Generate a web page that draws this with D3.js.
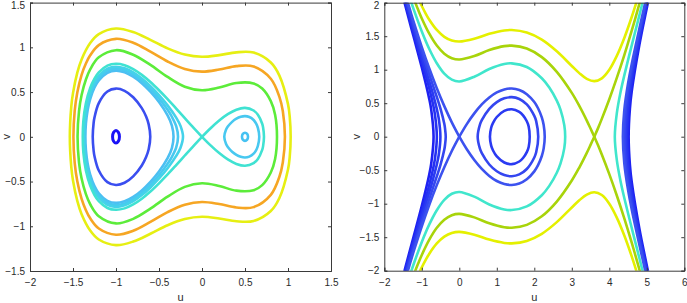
<!DOCTYPE html>
<html><head><meta charset="utf-8">
<script src="https://cdn.jsdelivr.net/npm/d3@7"></script>
<style>
body{margin:0;background:#fff}
svg{display:block}
text{font-family:"Liberation Sans",Arial,Helvetica,sans-serif}
</style></head>
<body><svg id="c" width="687" height="303"></svg>
<script>
// ---------- tick labels ----------
const leftXTicks = [-2, -1.5, -1, -0.5, 0, 0.5, 1, 1.5];
const leftYTicks = [-1.5, -1, -0.5, 0, 0.5, 1, 1.5];
const rightXTicks = [-2, -1, 0, 1, 2, 3, 4, 5, 6];
const rightYTicks = [-2, -1.5, -1, -0.5, 0, 0.5, 1, 1.5, 2];

// ---------- left panel: upper halves (u, v>=0) of symmetric orbits ----------
const lYellow = [[-1.537,0],[-1.52,0.337],[-1.5,0.488],[-1.45,0.717],[-1.4,0.865],[-1.3,1.048],[-1.2,1.148],[-1.0,1.211],[-0.8,1.171],[-0.6,1.084],[-0.4,0.988],[-0.2,0.919],[0,0.894],[0.2,0.913],[0.4,0.944],[0.6,0.941],[0.8,0.830],[0.9,0.684],[1.0,0.365],[1.02,0.225],[1.031,0]];
const lOrange = [[-1.495,0],[-1.48,0.293],[-1.45,0.496],[-1.4,0.693],[-1.35,0.820],[-1.3,0.911],[-1.2,1.025],[-1.0,1.095],[-0.8,1.051],[-0.6,0.952],[-0.4,0.842],[-0.2,0.759],[0,0.729],[0.2,0.752],[0.4,0.790],[0.6,0.786],[0.8,0.649],[0.9,0.447],[0.94,0.285],[0.964,0]];
const lGreen = [[-1.447,0],[-1.43,0.288],[-1.4,0.467],[-1.35,0.641],[-1.3,0.754],[-1.2,0.888],[-1.0,0.968],[-0.8,0.917],[-0.6,0.803],[-0.4,0.669],[-0.2,0.560],[0,0.520],[0.2,0.550],[0.4,0.602],[0.6,0.597],[0.7,0.540],[0.8,0.399],[0.85,0.247],[0.872,0]];
const lSepLeft = [[-1.3865,0],[-1.38,0.172],[-1.35,0.376],[-1.3,0.546],[-1.25,0.651],[-1.2,0.720],[-1.1,0.796],[-1.0,0.816],[-0.9,0.800],[-0.8,0.756],[-0.7,0.692],[-0.6,0.612],[-0.5,0.520],[-0.4,0.421],[-0.3,0.316],[-0.2,0.209],[-0.1,0.103],[0,0]];
const lSepRight = [[0,0],[0.1,0.096],[0.2,0.182],[0.3,0.253],[0.4,0.303],[0.5,0.323],[0.6,0.294],[0.65,0.247],[0.7,0.146],[0.71,0.107],[0.7206,0]];
const lCyan1 = [[-1.3736,0],[-1.36,0.227],[-1.35,0.295],[-1.3,0.494],[-1.25,0.608],[-1.2,0.681],[-1.1,0.761],[-1.0,0.783],[-0.9,0.765],[-0.8,0.720],[-0.7,0.651],[-0.6,0.566],[-0.5,0.466],[-0.4,0.351],[-0.3,0.214],[-0.25,0.122],[-0.221,0]];
const lCyan2 = [[-1.365,0],[-1.36,0.14],[-1.35,0.235],[-1.3,0.461],[-1.25,0.581],[-1.2,0.658],[-1.1,0.740],[-1.0,0.762],[-0.9,0.744],[-0.8,0.697],[-0.7,0.626],[-0.6,0.537],[-0.5,0.430],[-0.4,0.302],[-0.35,0.224],[-0.3,0.118],[-0.279,0]];
const lCyan3 = [[-1.356,0],[-1.35,0.146],[-1.33,0.297],[-1.3,0.422],[-1.25,0.551],[-1.2,0.631],[-1.1,0.716],[-1.0,0.739],[-0.9,0.721],[-0.8,0.672],[-0.7,0.599],[-0.6,0.504],[-0.5,0.388],[-0.4,0.239],[-0.35,0.126],[-0.331,0]];
const lBlue = [[-1.2705,0],[-1.26,0.157],[-1.25,0.217],[-1.2,0.377],[-1.1,0.507],[-1.0,0.539],[-0.9,0.514],[-0.8,0.442],[-0.7,0.320],[-0.65,0.226],[-0.62,0.139],[-0.6015,0]];
const lTinyBlue = [[-1.04,0],[-1.028,0.049],[-1.0,0.07],[-0.972,0.049],[-0.96,0]];
const lRightLoop = [[0.259,0],[0.28,0.081],[0.3,0.114],[0.35,0.167],[0.4,0.202],[0.45,0.223],[0.5,0.231],[0.55,0.221],[0.6,0.188],[0.63,0.148],[0.65,0.100],[0.666,0]];
const lTinyCyan = [[0.465,0],[0.475,0.032],[0.5,0.045],[0.525,0.032],[0.535,0]];

// ---------- right panel: upper halves ----------
const rYellow = [[-1.1,2.070],[-1.0,1.950],[-0.9,1.842],[-0.8,1.746],[-0.6,1.593],[-0.4,1.491],[-0.2,1.436],[0,1.420],[0.4,1.462],[0.8,1.536],[1.2,1.586],[1.4,1.592],[1.8,1.555],[2.2,1.449],[2.6,1.275],[3.0,1.056],[3.2,0.949],[3.4,0.864],[3.6,0.829],[3.8,0.871],[4.0,1.000],[4.2,1.207],[4.4,1.474],[4.6,1.790],[4.8,2.145]];
const rOliveLeft = [[-1.25,2.117],[-1.2,2.040],[-1.1,1.897],[-1.0,1.765],[-0.8,1.537],[-0.6,1.360],[-0.4,1.239],[-0.2,1.172],[0,1.152],[0.4,1.204],[0.8,1.293],[1.2,1.352],[1.4,1.359],[1.8,1.316],[2.2,1.188],[2.6,0.968],[3.0,0.654],[3.2,0.460],[3.4,0.241],[3.5,0.122],[3.6,0]];
const rOliveRight = [[3.6,0],[3.7,0.128],[3.8,0.266],[4.0,0.559],[4.2,0.877],[4.4,1.219],[4.6,1.586],[4.8,1.978],[4.9,2.184]];
const rTurqLoop = [[-1.35,2.126],[-1.3,2.040],[-1.2,1.874],[-1.0,1.571],[-0.8,1.309],[-0.6,1.097],[-0.4,0.942],[-0.2,0.852],[0,0.825],[0.4,0.895],[0.8,1.011],[1.2,1.086],[1.4,1.095],[1.8,1.041],[2.2,0.873],[2.4,0.734],[2.6,0.538],[2.7,0.399],[2.8,0.171],[2.8235,0]];
const rTurqRight = [[4.147,0],[4.2,0.347],[4.3,0.666],[4.4,0.915],[4.6,1.367],[4.8,1.807],[4.9,2.031]];
const rBlue0Left = [[-1.45,2.152],[-1.4,2.055],[-1.3,1.866],[-1.2,1.683],[-1.0,1.337],[-0.8,1.017],[-0.6,0.723],[-0.4,0.456],[-0.2,0.214],[0,0]];
const rBlue0Loop = [[0,0],[0.2,0.188],[0.4,0.348],[0.6,0.481],[0.8,0.585],[1.0,0.661],[1.2,0.706],[1.4,0.720],[1.6,0.698],[1.8,0.635],[2.0,0.517],[2.1,0.425],[2.2,0.288],[2.25,0.174],[2.278,0]];
const rBlue0Right = [[4.362,0],[4.4,0.397],[4.5,0.794],[4.6,1.090],[4.8,1.608],[5.0,2.101]];
const rBlue1Left = [[-1.45,2.112],[-1.4,2.013],[-1.3,1.820],[-1.2,1.632],[-1.0,1.271],[-0.8,0.929],[-0.6,0.593],[-0.5,0.416],[-0.4,0.192],[-0.38,0.120],[-0.362,0]];
const rBlue1Loop = [[0.49,0],[0.55,0.179],[0.6,0.246],[0.8,0.415],[1.0,0.516],[1.2,0.573],[1.4,0.590],[1.6,0.563],[1.8,0.482],[2.0,0.310],[2.05,0.233],[2.105,0]];
const rBlue1Right = [[4.403,0],[4.45,0.462],[4.5,0.678],[4.6,1.008],[4.8,1.554],[5.0,2.060]];
const rBlue2Left = [[-1.5,2.172],[-1.4,1.968],[-1.3,1.770],[-1.2,1.575],[-1.0,1.199],[-0.8,0.827],[-0.7,0.633],[-0.6,0.415],[-0.55,0.277],[-0.504,0]];
const rBlue2Loop = [[0.817,0],[0.85,0.134],[0.9,0.206],[1.0,0.294],[1.2,0.385],[1.4,0.410],[1.6,0.370],[1.7,0.318],[1.8,0.230],[1.85,0.153],[1.877,0]];
const rBlue2Right = [[4.441,0],[4.5,0.529],[4.6,0.915],[4.8,1.495],[5.0,2.016],[5.05,2.143]];
const rBlue3Left = [[-1.5,2.133],[-1.4,1.925],[-1.3,1.721],[-1.2,1.521],[-1.0,1.126],[-0.8,0.717],[-0.7,0.481],[-0.65,0.332],[-0.599,0]];
const rBlue3Right = [[4.477,0],[4.5,0.332],[4.55,0.615],[4.6,0.817],[4.8,1.437],[5.0,1.973],[5.05,2.104]];
const rBlue4Left = [[-1.55,2.193],[-1.5,2.085],[-1.4,1.872],[-1.3,1.662],[-1.2,1.454],[-1.0,1.033],[-0.8,0.560],[-0.75,0.407],[-0.686,0]];
const rBlue4Right = [[4.516,0],[4.55,0.422],[4.6,0.684],[4.8,1.366],[5.0,1.922],[5.1,2.188]];

// ---------- helpers (symmetry v -> -v) ----------
const flip = pts => pts.map(([u, v]) => [u, -v]);
const closedLoop = up => up.concat(flip(up).reverse().slice(1, -1));
const endVertex = b => b.concat(flip(b).reverse().slice(1));      // branch ends at its vertex
const startVertex = b => flip(b).reverse().concat(b.slice(1));    // branch starts at its vertex
const lobeFromOriginLeft = up => up.slice().reverse().concat(flip(up).slice(1));
const lobeFromOriginRight = up => up.concat(flip(up).reverse().slice(1));

const svg = d3.select("#c");
const LW = 2.6;

function panel(cfg) {
  const x = d3.scaleLinear().domain(cfg.xd).range([cfg.x0, cfg.x1]);
  const y = d3.scaleLinear().domain(cfg.yd).range([cfg.y1, cfg.y0]);
  const g = svg.append("g");
  const clipId = cfg.id + "clip";
  g.append("clipPath").attr("id", clipId).append("rect")
    .attr("x", cfg.x0).attr("y", cfg.y0).attr("width", cfg.x1 - cfg.x0).attr("height", cfg.y1 - cfg.y0);
  const curves = g.append("g").attr("clip-path", `url(#${clipId})`);
  const lineOpen = d3.line().x(d => x(d[0])).y(d => y(d[1])).curve(d3.curveCatmullRom.alpha(0.5));
  const lineClosed = d3.line().x(d => x(d[0])).y(d => y(d[1])).curve(d3.curveCatmullRomClosed.alpha(0.5));
  cfg.curves.forEach(c => {
    curves.append("path")
      .attr("d", (c.closed ? lineClosed : lineOpen)(c.pts))
      .attr("fill", "none").attr("stroke", c.color)
      .attr("stroke-width", c.w || LW).attr("stroke-linejoin", "round").attr("stroke-linecap", "round");
  });
  // axes (inward ticks, box)
  const fmt = d3.format("~g");
  const ax = g.append("g").attr("font-size", 10);
  const bottom = ax.append("g").attr("transform", `translate(0,${cfg.y1})`)
    .call(d3.axisBottom(x).tickValues(cfg.xt).tickSize(-3).tickPadding(8).tickFormat(fmt));
  const top = ax.append("g").attr("transform", `translate(0,${cfg.y0})`)
    .call(d3.axisTop(x).tickValues(cfg.xt).tickSize(-3).tickFormat(""));
  const left = ax.append("g").attr("transform", `translate(${cfg.x0},0)`)
    .call(d3.axisLeft(y).tickValues(cfg.yt).tickSize(-3).tickPadding(5).tickFormat(fmt));
  const right = ax.append("g").attr("transform", `translate(${cfg.x1},0)`)
    .call(d3.axisRight(y).tickValues(cfg.yt).tickSize(-3).tickFormat(""));
  [bottom, top, left, right].forEach(a => {
    a.selectAll("path.domain").attr("stroke", "#3a3a3a").attr("stroke-width", 1);
    a.selectAll(".tick line").attr("stroke", "#3a3a3a");
    a.selectAll(".tick text").attr("fill", "#2a2a2a").attr("font-family", '"Liberation Sans",Arial,sans-serif');
  });
  // keep the topmost y label inside the page
  const yMax = cfg.yd[1];
  left.selectAll(".tick").filter(d => d === yMax).select("text").attr("y", 2.5);
  // axis labels
  g.append("text").attr("x", (cfg.x0 + cfg.x1) / 2).attr("y", 301)
    .attr("text-anchor", "middle").attr("font-size", 11).attr("fill", "#2a2a2a").text("u");
  g.append("text").attr("transform", `translate(${cfg.vx},${(cfg.y0 + cfg.y1) / 2}) rotate(-90)`)
    .attr("text-anchor", "middle").attr("font-size", 11).attr("fill", "#2a2a2a").text("v");
}

// left panel
panel({
  id: "L", xd: [-2, 1.5], yd: [-1.5, 1.5], x0: 30, x1: 331, y0: 2.6, y1: 271,
  xt: leftXTicks, yt: leftYTicks, vx: 10,
  curves: [
    {pts: closedLoop(lYellow), closed: true, color: "#e6ef12"},
    {pts: closedLoop(lOrange), closed: true, color: "#f6a623"},
    {pts: closedLoop(lGreen), closed: true, color: "#5cec3a"},
    {pts: closedLoop(lCyan3), closed: true, color: "#4cbff2"},
    {pts: closedLoop(lCyan2), closed: true, color: "#48c8f0"},
    {pts: closedLoop(lCyan1), closed: true, color: "#44d2ea"},
    {pts: lobeFromOriginLeft(lSepLeft), closed: false, color: "#40e2d2"},
    {pts: lobeFromOriginRight(lSepRight), closed: false, color: "#40e2d2"},
    {pts: closedLoop(lRightLoop), closed: true, color: "#48c8f0"},
    {pts: closedLoop(lTinyCyan), closed: true, color: "#46c2f2"},
    {pts: closedLoop(lBlue), closed: true, color: "#3a4ef0"},
    {pts: closedLoop(lTinyBlue), closed: true, color: "#1a12f6", w: 3}
  ]
});

// right panel
panel({
  id: "R", xd: [-2, 6], yd: [-2, 2], x0: 384.3, x1: 684.3, y0: 2.7, y1: 270.7,
  xt: rightXTicks, yt: rightYTicks, vx: 360,
  curves: [
    {pts: rYellow, color: "#e4f000"},
    {pts: flip(rYellow), color: "#e4f000"},
    {pts: rOliveLeft, color: "#a8d40a"},
    {pts: flip(rOliveLeft), color: "#a8d40a"},
    {pts: rOliveRight, color: "#a8d40a"},
    {pts: flip(rOliveRight), color: "#a8d40a"},
    {pts: endVertex(rTurqLoop), color: "#40e6cc"},
    {pts: startVertex(rTurqRight), color: "#40e6cc"},
    {pts: endVertex(rBlue4Left), color: "#1e22f2"},
    {pts: startVertex(rBlue4Right), color: "#1e22f2"},
    {pts: endVertex(rBlue3Left), color: "#2430f2"},
    {pts: startVertex(rBlue3Right), color: "#2430f2"},
    {pts: endVertex(rBlue2Left), color: "#2a3af2"},
    {pts: closedLoop(rBlue2Loop), closed: true, color: "#2a3af2"},
    {pts: startVertex(rBlue2Right), color: "#2a3af2"},
    {pts: endVertex(rBlue1Left), color: "#3446f0"},
    {pts: closedLoop(rBlue1Loop), closed: true, color: "#3446f0"},
    {pts: startVertex(rBlue1Right), color: "#3446f0"},
    {pts: rBlue0Left, color: "#3c52ef"},
    {pts: flip(rBlue0Left), color: "#3c52ef"},
    {pts: lobeFromOriginRight(rBlue0Loop), color: "#3c52ef"},
    {pts: startVertex(rBlue0Right), color: "#3c52ef"}
  ]
});
</script>
</body></html>
